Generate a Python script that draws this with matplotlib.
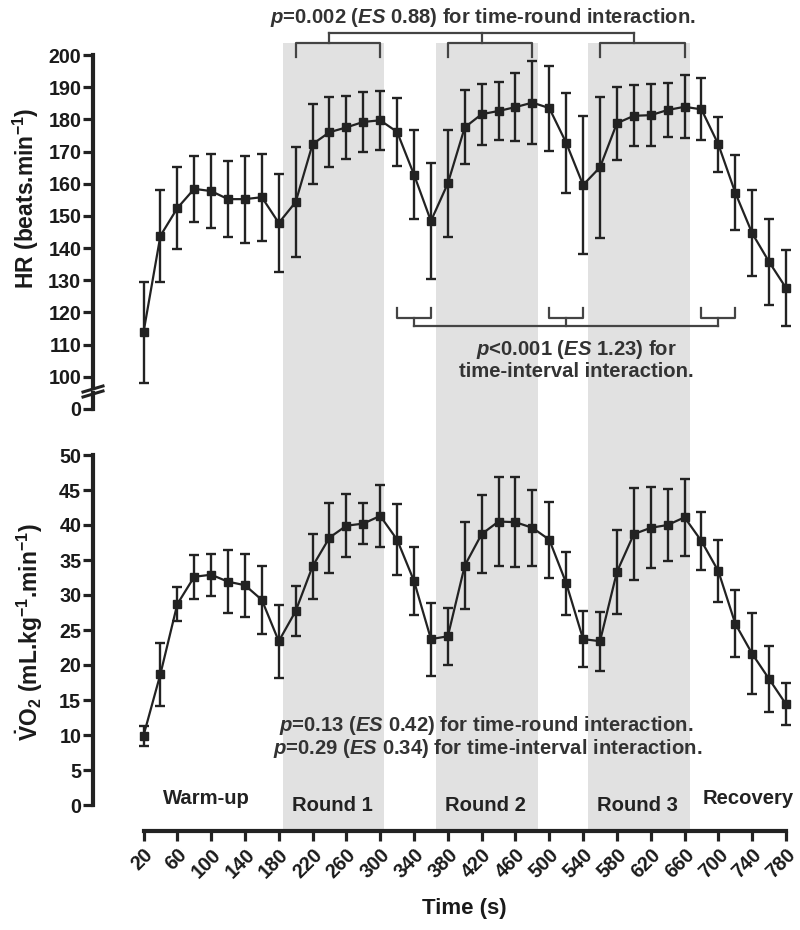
import matplotlib
matplotlib.use("Agg")
import matplotlib.pyplot as plt
from matplotlib.lines import Line2D

plt.rcParams['font.family'] = ['Liberation Sans', 'DejaVu Sans']
plt.rcParams['font.weight'] = 'bold'
plt.rcParams['mathtext.fontset'] = 'custom'
plt.rcParams['mathtext.rm'] = 'Liberation Sans:bold'
plt.rcParams['mathtext.bf'] = 'Liberation Sans:bold'
plt.rcParams['mathtext.it'] = 'Liberation Sans:bold:italic'
plt.rcParams['mathtext.default'] = 'bf'

# ---------------- data ----------------
time_s = [20, 40, 60, 80, 100, 120, 140, 160, 180, 200, 220, 240, 260, 280, 300,
          320, 340, 360, 380, 400, 420, 440, 460, 480, 500, 520, 540, 560, 580,
          600, 620, 640, 660, 680, 700, 720, 740, 760, 780]

hr_mean = [113.8, 143.8, 152.4, 158.4, 157.7, 155.2, 155.2, 155.8, 147.8, 154.3,
           172.3, 176.0, 177.5, 179.2, 179.7, 176.1, 162.8, 148.4, 160.1, 177.5,
           181.6, 182.6, 183.8, 185.2, 183.5, 172.7, 159.6, 165.1, 178.8, 181.1,
           181.3, 182.9, 183.9, 183.1, 172.2, 157.2, 144.6, 135.7, 127.6]
hr_sd = [15.8, 14.2, 12.7, 10.2, 11.6, 11.8, 13.5, 13.5, 15.2, 17.1,
         12.5, 10.8, 9.8, 9.3, 9.2, 10.5, 13.8, 18.1, 16.7, 11.5,
         9.5, 9.1, 10.6, 12.8, 13.2, 15.6, 21.3, 22.0, 11.4, 9.5,
         9.6, 8.4, 9.8, 9.6, 8.6, 11.7, 13.4, 13.4, 11.9]

vo2_mean = [9.9, 18.7, 28.7, 32.6, 32.9, 31.9, 31.4, 29.3, 23.4, 27.7,
            34.1, 38.2, 39.9, 40.2, 41.3, 37.9, 32.0, 23.7, 24.1, 34.2,
            38.7, 40.5, 40.4, 39.6, 37.9, 31.7, 23.7, 23.4, 33.3, 38.7,
            39.6, 40.0, 41.1, 37.7, 33.4, 25.9, 21.6, 18.0, 14.4]
vo2_sd = [1.4, 4.5, 2.4, 3.1, 3.0, 4.5, 4.5, 4.8, 5.2, 3.6,
          4.6, 5.0, 4.5, 2.9, 4.4, 5.1, 4.8, 5.2, 4.1, 6.2,
          5.6, 6.4, 6.4, 5.4, 5.4, 4.5, 4.0, 4.2, 6.0, 6.6,
          5.8, 5.2, 5.5, 4.1, 4.4, 4.8, 5.8, 4.7, 3.0]

round_spans = [(185, 305), (366, 487), (546, 667)]

phase_labels = ['Warm-up', 'Round 1', 'Round 2', 'Round 3', 'Recovery']
phase_x = [95, 243, 425, 604, 735]
phase_y = [0.15, -0.85, -0.85, -0.85, 0.15]

xtick_vals = [20, 60, 100, 140, 180, 220, 260, 300, 340, 380, 420, 460, 500,
              540, 580, 620, 660, 700, 740, 780]
hr_ticks = [100, 110, 120, 130, 140, 150, 160, 170, 180, 190, 200]
vo2_ticks = [0, 5, 10, 15, 20, 25, 30, 35, 40, 45, 50]

# brackets: (left, right, stem)
round_brackets = [(200, 300, 240), (380, 480, 420), (560, 660, 600)]
interval_brackets = [(320, 360, 340), (500, 540, 520), (680, 720, 700)]

# ---------------- layout ----------------
FW, FH = 800, 930
fig = plt.figure(figsize=(8, 9.3), dpi=100)

def fy(py):
    return 1 - py / FH

L = 143.5 / FW
W = 642.5 / FW
XLIM = (20, 780)
LINE_C = '#222222'
TXT_C = '#333333'
SHADE = '#e1e1e1'

# background shading axes
bg = fig.add_axes([L, fy(831), W, (831 - 43) / FH], zorder=0)
bg.set_xlim(XLIM)
bg.set_ylim(0, 1)
for a, b in round_spans:
    bg.axvspan(a, b, color=SHADE, lw=0)
bg.axis('off')

axH = fig.add_axes([L, fy(388), W, (388 - 55) / FH], zorder=2)
axZ = fig.add_axes([L, fy(409), W, (409 - 393) / FH], zorder=2)
axV = fig.add_axes([L, fy(805), W, (805 - 455) / FH], zorder=2)

SPINE_LW = 3.0
for ax in (axH, axZ, axV):
    ax.patch.set_alpha(0)
    ax.set_xlim(XLIM)
    for s in ('top', 'right'):
        ax.spines[s].set_visible(False)
    ax.spines['left'].set_position(('outward', 36.4))
    ax.spines['left'].set_linewidth(SPINE_LW)
    ax.spines['left'].set_color(LINE_C)
    ax.tick_params(axis='y', width=2.3, length=7, color=LINE_C, pad=1.5,
                   labelsize=14.2, labelcolor='#1a1a1a')

for ax in (axH, axZ):
    ax.spines['bottom'].set_visible(False)
    ax.set_xticks([])

axH.set_ylim(96.5, 200)
axH.set_yticks(hr_ticks)
axZ.set_ylim(0, 16 / 3.217)
axZ.set_yticks([0])

axV.set_ylim(0, 50)
axV.set_yticks(vo2_ticks)
axV.spines['bottom'].set_position(('outward', 18.7))
axV.spines['bottom'].set_linewidth(SPINE_LW)
axV.spines['bottom'].set_color(LINE_C)
axV.set_xticks(xtick_vals)
axV.set_xticklabels([str(v) for v in xtick_vals], rotation=45, ha='right',
                    rotation_mode='anchor')
axV.tick_params(axis='x', width=2.3, length=7, color=LINE_C, pad=3,
                labelsize=14.2, labelcolor='#1a1a1a')
axV.set_xlabel('Time (s)', fontsize=16, fontweight='bold', color='#1a1a1a',
              labelpad=12)

for lbl in axH.get_yticklabels() + axZ.get_yticklabels() + axV.get_yticklabels() + axV.get_xticklabels():
    lbl.set_fontweight('bold')

# data
eb_kw = dict(fmt='-s', color=LINE_C, ms=6.2, lw=1.6, elinewidth=1.7,
             capsize=3.3, capthick=1.7, clip_on=False, zorder=3)
axH.errorbar(time_s, hr_mean, yerr=hr_sd, **eb_kw)
axV.errorbar(time_s, vo2_mean, yerr=vo2_sd, **eb_kw)

# y labels
fig.text(26 / FW, fy(198), r'HR (beats.min$^{-1}$)', rotation=90,
         ha='center', va='center', fontsize=16.5, fontweight='bold', color='#1a1a1a')
fig.text(29 / FW, fy(632), r'$\dot{V}O_2$ (mL.kg$^{-1}$.min$^{-1}$)', rotation=90,
         ha='center', va='center', fontsize=16.5, fontweight='bold', color='#1a1a1a')

# axis break marks
for dy in (0, 5):
    fig.add_artist(Line2D([83 / FW, 103 / FW], [fy(392 + dy), fy(386 + dy)],
                          color=LINE_C, lw=2.2))

# round brackets (top)
BR_C = '#444444'
BR_LW = 1.6
y_leg_bot, y_br, y_top = 199.4, 203.7, 206.8
for a, b, s in round_brackets:
    axH.plot([a, a, b, b], [y_leg_bot, y_br, y_br, y_leg_bot], color=BR_C,
             lw=BR_LW, clip_on=False, zorder=3)
    axH.plot([s, s], [y_br, y_top], color=BR_C, lw=BR_LW, clip_on=False, zorder=3)
axH.plot([round_brackets[0][2], round_brackets[-1][2]], [y_top, y_top],
         color=BR_C, lw=BR_LW, clip_on=False, zorder=3)

# interval brackets
yi_top, yi_br, yi_bot = 121.3, 118.2, 115.9
for a, b, s in interval_brackets:
    axH.plot([a, a, b, b], [yi_top, yi_br, yi_br, yi_top], color=BR_C,
             lw=BR_LW, zorder=3)
    axH.plot([s, s], [yi_br, yi_bot], color=BR_C, lw=BR_LW, zorder=3)
axH.plot([interval_brackets[0][2], interval_brackets[-1][2]], [yi_bot, yi_bot],
         color=BR_C, lw=BR_LW, zorder=3)

# annotations
ANN = dict(fontsize=14.6, fontweight='bold', color=TXT_C, ha='center', va='center')
axH.text(421, 211.8, r'$\mathit{p}$=0.002 ($\mathit{ES}$ 0.88) for time-round interaction.', **ANN)
axH.text(532, 108.4, r'$\mathit{p}$<0.001 ($\mathit{ES}$ 1.23) for', **ANN)
axH.text(532, 101.6, 'time-interval interaction.', **ANN)
axV.text(426, 11.3, r'$\mathit{p}$=0.13 ($\mathit{ES}$ 0.42) for time-round interaction.', **ANN)
axV.text(427, 8.1, r'$\mathit{p}$=0.29 ($\mathit{ES}$ 0.34) for time-interval interaction.', **ANN)

for t, x, y in zip(phase_labels, phase_x, phase_y):
    axV.text(x, y, t, fontsize=14.6, fontweight='bold', color='#222222',
             ha='center', va='baseline')

fig.savefig('out.png', dpi=100)
